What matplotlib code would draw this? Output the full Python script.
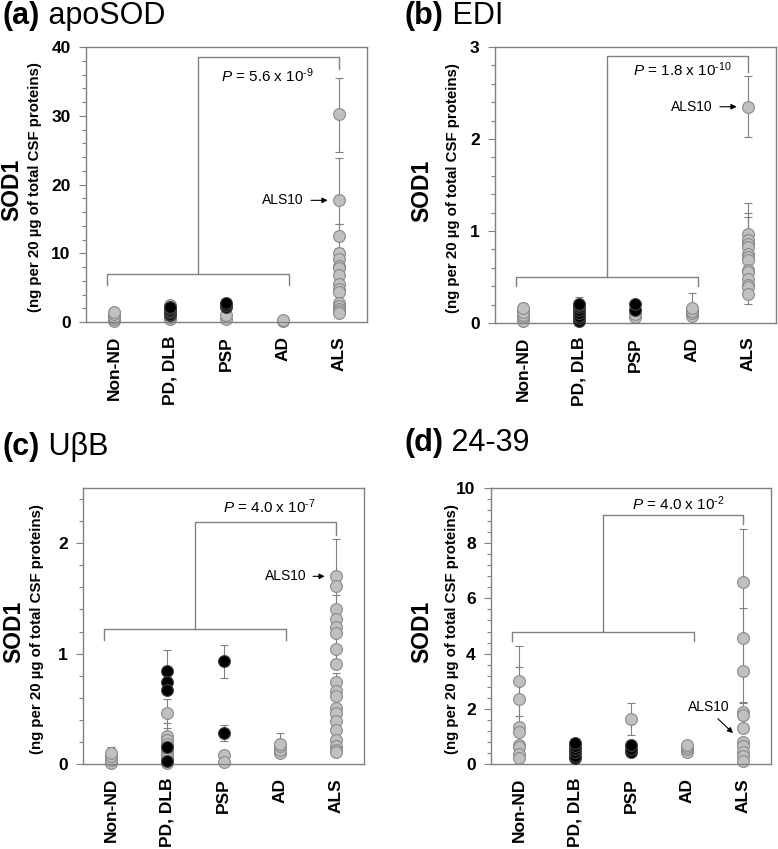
import numpy as np
import matplotlib
matplotlib.use('Agg')
import matplotlib.pyplot as plt
from matplotlib.ticker import MultipleLocator

plt.rcParams['font.family'] = ['Liberation Sans', 'DejaVu Sans']
plt.rcParams['mathtext.fontset'] = 'custom'
plt.rcParams['mathtext.rm'] = 'Liberation Sans'
plt.rcParams['mathtext.it'] = 'Liberation Sans:italic'

categories = ['Non-ND', 'PD, DLB', 'PSP', 'AD', 'ALS']

# ---- (a) apoSOD ----
a_gray = [[0.1, 0.5, 0.8, 1.2, 1.4],
          [0.5, 0.8, 1.0, 2.5],
          [0.4, 1.0],
          [0.2, 0.3],
          [30.2, 17.7, 12.5, 10.1, 9.2, 8.2, 7.8, 6.8, 5.5, 4.8, 4.3, 2.8, 2.3, 1.9, 1.6, 1.3]]
a_black = [[], [1.0, 1.2, 1.4, 1.6, 1.8, 2.0, 2.2], [2.2, 2.5, 2.7], [], []]
a_err = [(5, 30.2, 5.4, 5.3), (5, 17.7, 3.5, 6.1), (5, 12.5, 1.7, 1.7)]

# ---- (b) EDI ----
b_gray = [[0.02, 0.06, 0.09, 0.12, 0.16],
          [0.03, 0.08, 0.12],
          [0.07, 0.10],
          [0.08, 0.11, 0.13, 0.16],
          [2.35, 0.97, 0.90, 0.86, 0.83, 0.75, 0.72, 0.68, 0.58, 0.55, 0.48, 0.41, 0.39, 0.32]]
b_black = [[], [0.02, 0.05, 0.08, 0.11, 0.14, 0.17, 0.20, 0.21], [0.14, 0.21], [], []]
b_err = [(1, 0.16, 0.06, 0.06), (2, 0.21, 0.07, 0.07), (4, 0.16, 0.17, 0.17),
         (5, 2.35, 0.33, 0.33), (5, 0.97, 0.33, 0.33), (5, 0.90, 0.25, 0.25),
         (5, 0.86, 0.33, 0.33), (5, 0.32, 0.11, 0.11)]

# ---- (c) UbetaB ----
c_gray = [[0.01, 0.04, 0.07, 0.10],
          [0.46, 0.25, 0.22, 0.18, 0.12, 0.08, 0.05, 0.01],
          [0.08, 0.02],
          [0.10, 0.13, 0.16, 0.18],
          [1.70, 1.61, 1.40, 1.31, 1.24, 1.19, 1.04, 0.91, 0.74, 0.66, 0.62, 0.51,
           0.46, 0.39, 0.31, 0.22, 0.16, 0.13, 0.11]]
c_black = [[], [0.84, 0.74, 0.67, 0.15, 0.03], [0.93, 0.28], [], []]
c_err = [(1, 0.10, 0.05, 0.05), (2, 0.84, 0.19, 0.19), (2, 0.46, 0.13, 0.13),
         (2, 0.25, 0.12, 0.12), (3, 0.93, 0.15, 0.15), (3, 0.28, 0.07, 0.07),
         (4, 0.18, 0.10, 0.10), (5, 1.70, 0.34, 0.34), (5, 1.24, 0.29, 0.29),
         (5, 0.66, 0.16, 0.16)]

# ---- (d) 24-39 ----
d_gray = [[3.0, 2.35, 1.35, 1.15, 0.7, 0.6, 0.35, 0.2],
          [],
          [1.62],
          [0.45, 0.55, 0.62, 0.70],
          [6.6, 4.58, 3.38, 1.9, 1.78, 1.3, 0.78, 0.65, 0.45, 0.3, 0.1]]
d_black = [[], [0.2, 0.3, 0.45, 0.55, 0.65, 0.75], [0.45, 0.55, 0.7], [], []]
d_err = [(1, 3.0, 1.27, 1.27), (1, 2.35, 1.15, 1.15), (3, 1.62, 0.57, 0.58),
         (4, 0.70, 0.15, 0.15), (5, 6.6, 1.9, 1.9), (5, 4.58, 1.08, 1.08),
         (5, 3.38, 1.15, 1.15), (5, 1.9, 0.3, 0.3)]

p_texts = [r'$\it{P}$ = 5.6 x 10$^{\text{-9}}$', r'$\it{P}$ = 1.8 x 10$^{\text{-10}}$',
           r'$\it{P}$ = 4.0 x 10$^{\text{-7}}$', r'$\it{P}$ = 4.0 x 10$^{\text{-2}}$']
titles = [('(a)', 'apoSOD'), ('(b)', 'EDI'), ('(c)', 'U\u03b2B'), ('(d)', '24-39')]

GRAY = '#808080'

fig = plt.figure(figsize=(7.78, 8.49), dpi=100)

# axes rectangles, y limits, major/minor steps
rects = [[0.1105, 0.6207, 0.3612, 0.3239],
         [0.6362, 0.6196, 0.3612, 0.3251],
         [0.1067, 0.1001, 0.3612, 0.3251],
         [0.6311, 0.1001, 0.3600, 0.3251]]
ylims = [40, 3, 2.5, 10]
majors = [10, 1, 1, 2]
minors = [2, 0.2, 0.2, 0.4]
# bracket: lower y, lower tick end, top y, ALS tick end
brackets = [(7.0, 5.4, 38.5, 36.8), (0.5, 0.4, 2.9, 2.73),
            (1.227, 1.12, 2.19, 2.07), (4.78, 4.46, 9.02, 8.7)]
ptext_pos = [(3.73, 35.9), (3.84, 2.75), (3.82, 2.33), (3.85, 9.43)]
ylab_x = [(-0.265, -0.18), (-0.26, -0.15), (-0.245, -0.165), (-0.248, -0.14)]
title_pos = [(3, 16), (405, 16), (3, 447), (404, 443)]

grays = [a_gray, b_gray, c_gray, d_gray]
blacks = [a_black, b_black, c_black, d_black]
errs = [a_err, b_err, c_err, d_err]

for k in range(4):
    ax = fig.add_axes(rects[k])
    # error bars underneath
    for (cat, y, lo, hi) in errs[k]:
        ax.errorbar([cat], [y], yerr=[[lo], [hi]], fmt='none', ecolor=GRAY,
                    elinewidth=0.8, capsize=3, capthick=0.8, zorder=1)
    for i in range(5):
        g = grays[k][i]
        b = blacks[k][i]
        ax.plot([i + 1] * len(g), g, 'o', ms=8.5, mfc='#c0c0c0', mec='#8a8a8a',
                mew=0.8, zorder=2, clip_on=False)
        ax.plot([i + 1] * len(b), b, 'o', ms=8.5, mfc='black', mec='#404040',
                mew=0.8, zorder=3, clip_on=False)

    # significance bracket
    lo_y, lo_end, top_y, als_end = brackets[k]
    ax.plot([0.88, 0.88, 4.12, 4.12], [lo_end, lo_y, lo_y, lo_end], color=GRAY, lw=1)
    ax.plot([2.5, 2.5, 5, 5], [lo_y, top_y, top_y, als_end], color=GRAY, lw=1)
    ax.text(ptext_pos[k][0], ptext_pos[k][1], p_texts[k], ha='center', va='center',
            fontsize=11)

    ax.set_xlim(0.5, 5.5)
    ax.set_ylim(0, ylims[k])
    ax.yaxis.set_major_locator(MultipleLocator(majors[k]))
    ax.yaxis.set_minor_locator(MultipleLocator(minors[k]))
    if k == 2:
        ax.set_yticks([0, 1, 2])
    ax.set_xticks(range(1, 6))
    ax.set_xticklabels(categories, rotation=90, fontweight='bold', fontsize=12.5)
    for lab in ax.get_yticklabels():
        lab.set_fontweight('bold')
    ax.tick_params(axis='x', length=0, pad=10)
    ax.tick_params(axis='y', which='major', length=5, width=0.8, color=GRAY,
                   labelsize=12.5, pad=6)
    ax.tick_params(axis='y', which='minor', length=3, width=0.8, color=GRAY)
    for s in ax.spines.values():
        s.set_color(GRAY)
        s.set_linewidth(1)

    ax.text(ylab_x[k][0], 0.48, 'SOD1', transform=ax.transAxes, rotation=90,
            ha='center', va='center', fontsize=16.5, fontweight='bold')
    ax.text(ylab_x[k][1], 0.49, '(ng per 20 \u00b5g of total CSF proteins)',
            transform=ax.transAxes, rotation=90, ha='center', va='center',
            fontsize=10.8, fontweight='bold')

    # panel title
    tx, ty = title_pos[k]
    t1 = fig.text(tx / 778, 1 - ty / 849, titles[k][0], fontsize=22,
                  fontweight='bold', ha='left', va='center')
    ax.annotate(' ' + titles[k][1], xy=(1, 0), xycoords=t1, ha='left', va='bottom',
                fontsize=22, annotation_clip=False)

    # ALS10 annotation
    if k == 0:
        ax.annotate('ALS10', xy=(4.8, 17.7), xytext=(4.38, 17.7), ha='right', va='center',
                    fontsize=10, arrowprops=dict(arrowstyle='-|>', color='black', lw=0.8,
                                                 mutation_scale=8, shrinkA=3, shrinkB=0))
    elif k == 1:
        ax.annotate('ALS10', xy=(4.8, 2.35), xytext=(4.38, 2.35), ha='right', va='center',
                    fontsize=10, arrowprops=dict(arrowstyle='-|>', color='black', lw=0.8,
                                                 mutation_scale=8, shrinkA=3, shrinkB=0))
    elif k == 2:
        ax.annotate('ALS10', xy=(4.8, 1.70), xytext=(4.47, 1.70), ha='right', va='center',
                    fontsize=10, arrowprops=dict(arrowstyle='-|>', color='black', lw=0.8,
                                                 mutation_scale=8, shrinkA=3, shrinkB=0))
    else:
        ax.text(4.39, 2.08, 'ALS10', ha='center', va='center', fontsize=10)
        ax.annotate('', xy=(4.82, 1.12), xytext=(4.55, 1.64),
                    arrowprops=dict(arrowstyle='-|>', color='black', lw=0.8,
                                    mutation_scale=8, shrinkA=0, shrinkB=0))

fig.savefig('out.png', dpi=100)
